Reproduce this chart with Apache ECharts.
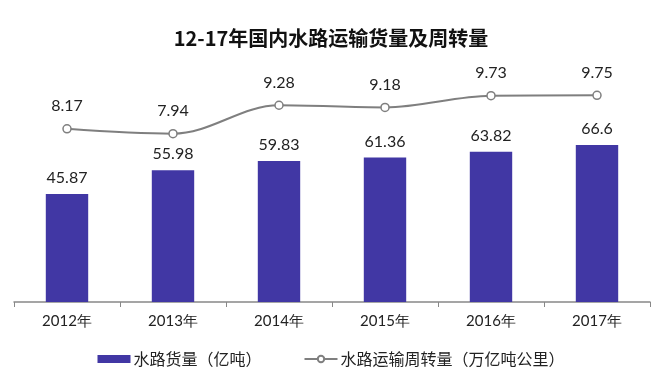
<!DOCTYPE html>
<html><head><meta charset="utf-8">
<script src="https://cdn.jsdelivr.net/npm/echarts@6/dist/echarts.min.js"></script>
<style>html,body{margin:0;padding:0;background:#fff}#c{width:662px;height:387px}</style>
</head><body><div id="c"></div>
<script>
const categories = ['2012年','2013年','2014年','2015年','2016年','2017年'];
const cargoVolume = [45.87, 55.98, 59.83, 61.36, 63.82, 66.6];
const turnover = [8.17, 7.94, 9.28, 9.18, 9.73, 9.75];
const barName = '水路货量（亿吨）';
const lineName = '水路运输周转量（万亿吨公里）';

const chart = echarts.init(document.getElementById('c'));
chart.setOption({
  animation: false,
  title: {
    text: '12-17年国内水路运输货量及周转量',
    left: 'center', top: 23,
    textStyle: {fontFamily: 'Noto Sans CJK SC', fontWeight: 'bold', fontSize: 20, color: '#111'}
  },
  legend: {
    top: 346, left: 'center', itemGap: 42,
    itemWidth: 33, itemHeight: 8,
    textStyle: {fontFamily: 'Noto Sans CJK SC', fontSize: 16, color: '#222', padding: [0, 0, 0, -2]},
    data: [{name: barName, icon: 'rect'}, {name: lineName}]
  },
  grid: {left: 14, right: 12, top: 90, bottom: 85, containLabel: false},
  xAxis: {
    type: 'category', data: categories,
    axisLine: {lineStyle: {color: '#888', width: 1.5}},
    axisTick: {show: true, length: 5, lineStyle: {color: '#888'}},
    axisLabel: {fontFamily: 'Lato', fontSize: 15, color: '#222', margin: 12}
  },
  yAxis: [
    {type: 'value', min: 0, max: 90, show: false, splitLine: {show: false}},
    {type: 'value', min: 0, max: 10, show: false, splitLine: {show: false}}
  ],
  series: [
    {
      name: barName, type: 'bar', data: cargoVolume, barWidth: '40%', yAxisIndex: 0,
      itemStyle: {color: '#4137a4'},
      label: {show: true, position: 'top', distance: 8, fontFamily: 'Lato', fontSize: 16, color: '#222'}
    },
    {
      name: lineName, type: 'line', data: turnover, yAxisIndex: 1, smooth: 0.35,
      symbol: 'circle', symbolSize: 8,
      lineStyle: {color: '#7f7f7f', width: 2},
      itemStyle: {color: '#fff', borderColor: '#7f7f7f', borderWidth: 1.5},
      label: {show: true, position: 'top', distance: 10, fontFamily: 'Lato', fontSize: 16, color: '#222'}
    }
  ]
});
</script></body></html>
